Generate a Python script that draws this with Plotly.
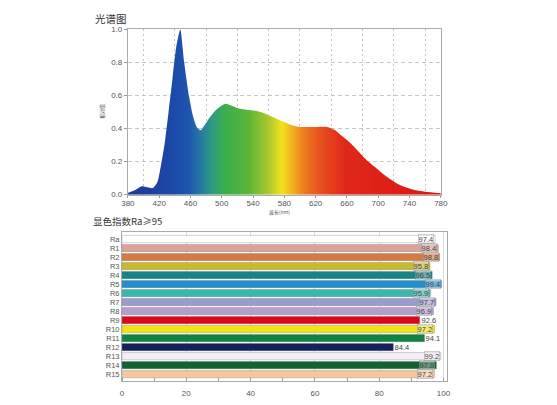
import plotly.graph_objects as go

# ---- spectrum data ----
wavelength = [380, 390, 397, 405, 412, 418, 422, 427, 432, 437, 442, 447, 452, 458, 463, 468,
              473, 478, 485, 492, 500, 505, 512, 520, 530, 540, 550, 560, 570, 580, 590, 600,
              620, 635, 645, 655, 665, 675, 685, 695, 705, 715, 725, 735, 745, 760, 780]
intensity = [0.01, 0.03, 0.05, 0.045, 0.04, 0.08, 0.17, 0.31, 0.50, 0.70, 0.90, 1.0, 0.80, 0.60, 0.48, 0.41,
             0.39, 0.42, 0.47, 0.51, 0.54, 0.55, 0.54, 0.525, 0.515, 0.51, 0.50, 0.48, 0.46, 0.44, 0.42, 0.41,
             0.41, 0.41, 0.39, 0.35, 0.31, 0.26, 0.21, 0.17, 0.13, 0.095, 0.065, 0.045, 0.03, 0.018, 0.008]

spectrum_stops = [380, 430, 455, 470, 485, 500, 530, 555, 572, 585, 600, 620, 650, 780]
spectrum_colors = ["#1d3a94", "#1c46a6", "#1e55b0", "#2478a4", "#2f9a82", "#3aae4c", "#5cb53a",
                   "#a8c82e", "#f4e01c", "#f4b020", "#ee7a1e", "#e8501e", "#e0281a", "#dc1414"]

# ---- color rendering index data ----
cri_labels = ["Ra", "R1", "R2", "R3", "R4", "R5", "R6", "R7", "R8", "R9", "R10", "R11", "R12", "R13", "R14", "R15"]
cri_values = [97.4, 98.4, 98.8, 95.8, 96.5, 99.4, 95.9, 97.7, 96.9, 92.6, 97.2, 94.1, 84.4, 99.2, 97.8, 97.2]
cri_colors = ["#ffffff", "#d9a39b", "#d27c44", "#c9b92c", "#178486", "#2290cf", "#3cb7ae", "#9b9bd0",
              "#b79ccf", "#e0061a", "#f3e316", "#128442", "#13205e", "#f6eef6", "#116233", "#f5c79a"]
outside_labels = ["R9", "R11", "R12"]

fig = go.Figure()

lo, hi = spectrum_stops[0], spectrum_stops[-1]
colorscale = [[(w - lo) / (hi - lo), c] for w, c in zip(spectrum_stops, spectrum_colors)]

fig.add_trace(go.Scatter(
    x=wavelength, y=intensity, mode="lines", line=dict(width=0, shape="spline", smoothing=0.6),
    fill="tozeroy",
    fillgradient=dict(type="horizontal", colorscale=colorscale, start=lo, stop=hi),
    xaxis="x", yaxis="y", showlegend=False, hoverinfo="skip"))

fig.add_trace(go.Bar(
    x=cri_values, y=cri_labels, orientation="h",
    marker=dict(color=cri_colors, line=dict(width=0.6, color="rgba(90,90,90,0.45)")),
    width=0.8, xaxis="x2", yaxis="y2", showlegend=False, hoverinfo="skip"))

annotations = []
for lab, v in zip(cri_labels, cri_values):
    out = lab in outside_labels
    annotations.append(dict(
        x=v, y=lab, xref="x2", yref="y2", text=f"{v:.1f}", showarrow=False,
        xanchor="left" if out else "right", xshift=1 if out else -1,
        font=dict(size=7.5, color="#444", family="Liberation Sans"),
        bgcolor="rgba(255,255,255,0)" if out else "rgba(255,255,255,0.35)",
        bordercolor="rgba(0,0,0,0)" if out else "rgba(120,120,120,0.6)",
        borderwidth=0.6, borderpad=0))

W, H = 557, 405
annotations += [
    dict(text="光谱图", x=88 / W, y=1 - 15 / H, xref="paper", yref="paper", showarrow=False,
         xanchor="left", yanchor="middle", font=dict(size=10.5, color="#333", family="Noto Sans CJK SC")),
    dict(text="显色指数Ra≥95", x=86 / W, y=1 - 222 / H, xref="paper", yref="paper", showarrow=False,
         xanchor="left", yanchor="middle", font=dict(size=9.5, color="#333", family="Noto Sans CJK SC")),
    dict(text="相对值", x=97 / W, y=1 - 110 / H, xref="paper", yref="paper", showarrow=False,
         textangle=-90, xanchor="center", yanchor="middle",
         font=dict(size=5, color="#555", family="Noto Sans CJK SC")),
    dict(text="波长(nm)", x=280 / W, y=1 - 213 / H, xref="paper", yref="paper", showarrow=False,
         xanchor="center", yanchor="middle", font=dict(size=5, color="#555", family="Noto Sans CJK SC")),
]

axis_font = dict(size=8, color="#555", family="Liberation Sans")

fig.update_layout(
    width=W, height=H, margin=dict(l=0, r=0, t=0, b=0),
    paper_bgcolor="white", plot_bgcolor="white",
    annotations=annotations, bargap=0.2,
    xaxis=dict(domain=[124 / W, 445 / W], range=[380, 780], dtick=40, tick0=380,
               showgrid=False, showline=True, mirror=True, linecolor="#aaa", linewidth=1,
               ticks="outside", ticklen=2, tickcolor="#999", tickfont=axis_font,
               ticklabelstandoff=-1,
               minor=dict(dtick=20, showgrid=True, gridcolor="#c4c4c4", griddash="2px,3px", gridwidth=1),
               zeroline=False, anchor="y"),
    yaxis=dict(domain=[1 - 195 / H, 1 - 26 / H], range=[0, 1.0], dtick=0.2, tickformat=".1f",
               showgrid=True, gridcolor="#c4c4c4", griddash="4px,3px", gridwidth=1,
               showline=True, mirror=True, linecolor="#aaa", linewidth=1,
               ticks="outside", ticklen=3, tickcolor="#999", tickfont=axis_font,
               zeroline=False, anchor="x"),
    xaxis2=dict(domain=[118 / W, 451 / W], range=[0, 101], dtick=20, tick0=0,
                showgrid=True, gridcolor="#dcdcdc", gridwidth=1,
                showline=True, mirror=True, linecolor="#aaa", linewidth=1,
                ticks="outside", ticklen=4, tickcolor="rgba(0,0,0,0)", tickfont=axis_font,
                minor=dict(dtick=10, ticks="inside", ticklen=3, tickcolor="#999"),
                zeroline=False, anchor="y2"),
    yaxis2=dict(domain=[1 - 386 / H, 1 - 233 / H], type="category",
                categoryorder="array", categoryarray=cri_labels, range=[15.8, -0.8],
                showgrid=False, showline=True, mirror=True, linecolor="#aaa", linewidth=1,
                ticks="", tickfont=dict(size=7.5, color="#555", family="Liberation Sans"),
                zeroline=False, anchor="x2"),
)

fig.write_html("out.html")
